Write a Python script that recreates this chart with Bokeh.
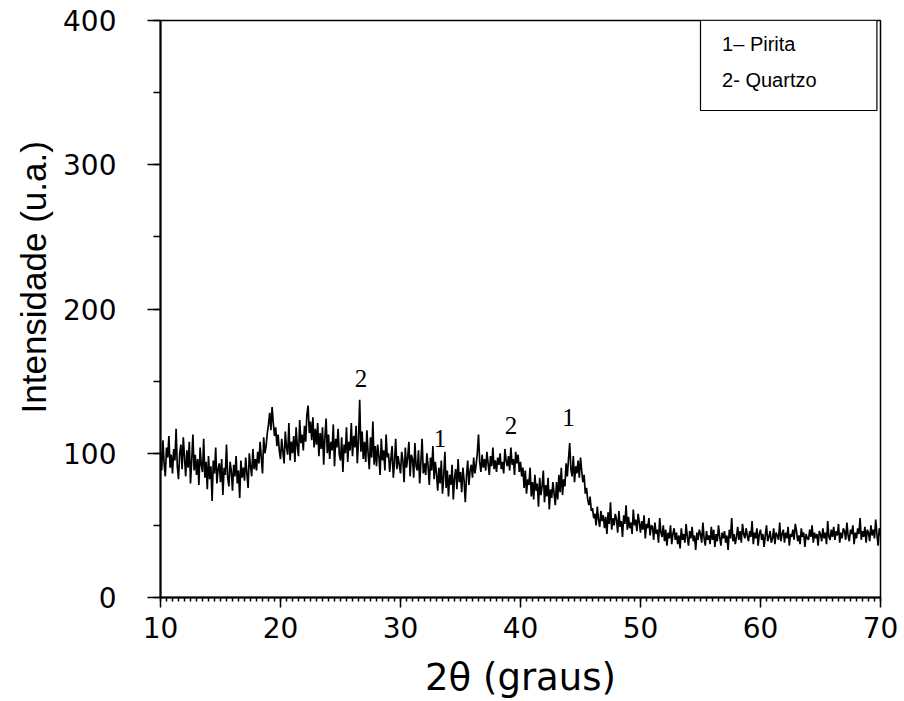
from bokeh.plotting import figure
from bokeh.models import Range1d, Label, BoxAnnotation, SingleIntervalTicker, ColumnDataSource, Title
from bokeh.core.properties import value
from bokeh.embed import file_html
from bokeh.resources import INLINE

# XRD scan: 2theta from 10 to 70 deg, step 0.1 deg
two_theta_start = 10.0
two_theta_step = 0.1
intensity = [
    101, 88, 109, 93, 84, 104, 97, 112, 90, 99,      # 10
    86, 103, 95, 117, 91, 82, 100, 106, 89, 111,     # 11
    97, 84, 102, 90, 108, 79, 95, 113, 88, 99,       # 12
    85, 96, 78, 104, 92, 87, 110, 83, 94, 75,        # 13
    98, 82, 91, 67, 95, 86, 104, 79, 89, 93,         # 14
    80, 96, 71, 90, 85, 106, 83, 77, 94, 88,         # 15
    74, 92, 84, 98, 79, 88, 69, 95, 83, 90,          # 16
    81, 97, 86, 76, 100, 91, 84, 103, 89, 96,        # 17
    88, 101, 93, 108, 97, 86, 111, 100, 105, 114,    # 18
    120, 128, 116, 132, 121, 112, 118, 105, 113, 102,  # 19
    96, 110, 101, 93, 115, 104, 99, 121, 95, 108,    # 20
    100, 112, 94, 118, 105, 98, 123, 107, 113, 102,  # 21
    119, 108, 127, 133, 114, 122, 109, 125, 104, 117,  # 22
    106, 121, 98, 114, 103, 118, 92, 111, 124, 100,  # 23
    113, 96, 108, 102, 120, 91, 110, 104, 117, 99,   # 24
    95, 111, 87, 106, 100, 118, 94, 108, 102, 121,   # 25
    98, 112, 104, 119, 93, 109, 137, 101, 115, 96,   # 26
    108, 94, 116, 100, 89, 111, 97, 122, 92, 105,    # 27
    91, 106, 98, 85, 110, 95, 102, 88, 113, 97,      # 28
    100, 87, 96, 105, 83, 94, 110, 89, 98, 92,       # 29
    86, 101, 95, 80, 104, 90, 97, 108, 84, 99,       # 30
    96, 83, 107, 91, 88, 102, 79, 94, 110, 86,       # 31
    93, 85, 100, 91, 78, 97, 88, 105, 82, 94,        # 32
    86, 74, 90, 79, 95, 72, 84, 101, 76, 88,         # 33
    70, 85, 78, 92, 68, 83, 89, 75, 96, 80,          # 34
    87, 73, 90, 81, 66, 84, 95, 78, 88, 92,          # 35
    83, 97, 86, 92, 100, 113, 94, 87, 99, 90,        # 36
    96, 88, 101, 93, 85, 98, 91, 104, 89, 95,        # 37
    87, 97, 92, 100, 89, 94, 86, 103, 95, 91,        # 38
    98, 88, 104, 92, 96, 85, 101, 93, 99, 87,        # 39
    94, 84, 90, 76, 88, 72, 82, 78, 90, 70,          # 40
    80, 68, 85, 74, 79, 63, 83, 71, 77, 88,          # 41
    66, 78, 70, 83, 61, 75, 69, 80, 72, 64,          # 42
    80, 68, 85, 73, 90, 71, 82, 77, 93, 84,          # 43
    96, 107, 89, 84, 98, 80, 91, 86, 95, 83,         # 44
    97, 88, 80, 85, 72, 76, 68, 64, 70, 60,          # 45
    62, 55, 58, 50, 63, 54, 49, 60, 53, 57,          # 46
    48, 56, 44, 59, 51, 66, 47, 55, 50, 58,          # 47
    54, 45, 60, 49, 53, 42, 57, 51, 64, 47,          # 48
    56, 48, 52, 44, 61, 50, 54, 46, 58, 52,          # 49
    45, 53, 47, 57, 41, 51, 48, 55, 43, 50,          # 50
    49, 40, 52, 44, 47, 38, 55, 45, 42, 50,          # 51
    39, 47, 36, 45, 41, 50, 37, 44, 48, 40,          # 52
    45, 37, 43, 34, 48, 40, 44, 38, 51, 42,          # 53
    36, 46, 41, 49, 39, 43, 33, 45, 40, 47,          # 54
    44, 38, 52, 41, 36, 46, 40, 43, 37, 49,          # 55
    40, 47, 35, 44, 39, 50, 42, 36, 45, 41,          # 56
    46, 38, 43, 33, 47, 41, 55, 39, 44, 37,          # 57
    42, 49, 40, 46, 38, 51, 44, 41, 48, 43,          # 58
    39, 46, 42, 53, 37, 45, 41, 48, 36, 44,          # 59
    47, 40, 44, 35, 43, 50, 39, 42, 46, 38,          # 60
    41, 48, 37, 45, 43, 40, 52, 39, 44, 47,          # 61
    38, 45, 41, 49, 36, 44, 42, 47, 40, 51,          # 62
    46, 39, 43, 37, 48, 42, 45, 35, 44, 41,          # 63
    40, 47, 42, 50, 38, 45, 41, 44, 36, 46,          # 64
    44, 39, 48, 41, 45, 37, 53, 42, 40, 47,          # 65
    42, 49, 40, 46, 43, 51, 38, 45, 41, 48,          # 66
    46, 40, 52, 43, 39, 47, 44, 50, 37, 45,          # 67
    41, 48, 44, 55, 40, 46, 42, 49, 38, 47,          # 68
    45, 39, 50, 43, 47, 41, 54, 44, 36, 48,          # 69
    43,                                              # 70
]
two_theta = [round(two_theta_start + i * two_theta_step, 2) for i in range(len(intensity))]

# Peak markers (1 = Pirita, 2 = Quartzo)
peak_labels = ["2", "1", "2", "1"]
peak_x = [26.7, 33.3, 39.2, 44.0]
peak_y = [152, 110, 119, 125]

legend_lines = ["1\u2013 Pirita", "2- Quartzo"]

p = figure(width=900, height=701, output_backend="svg", toolbar_location=None,
           x_range=Range1d(10, 70), y_range=Range1d(0, 400),
           min_border_left=160, min_border_right=20, min_border_top=20, min_border_bottom=104)
p.grid.visible = False
p.background_fill_color = "white"
p.border_fill_color = "white"
p.outline_line_color = "black"
p.outline_line_width = 1.5

p.line(two_theta, intensity, line_color="black", line_width=1.7)

src = ColumnDataSource(dict(x=peak_x, y=peak_y, t=peak_labels))
p.text(x="x", y="y", text="t", source=src, text_font=value("Liberation Serif"),
       text_font_size="25px", text_align="center", text_baseline="middle", text_color="black")

# axes
p.xaxis.ticker = SingleIntervalTicker(interval=10, num_minor_ticks=20)
p.yaxis.ticker = SingleIntervalTicker(interval=100, num_minor_ticks=2)
for ax in (p.xaxis[0], p.yaxis[0]):
    ax.axis_line_width = 2
    ax.axis_line_color = "black"
    ax.major_tick_line_color = "black"
    ax.minor_tick_line_color = "black"
    ax.major_tick_line_width = 1.5
    ax.minor_tick_line_width = 1.5
    ax.major_tick_in = 0
    ax.minor_tick_in = 0
    ax.major_label_text_font = "DejaVu Sans"
    ax.major_label_text_font_size = "28px"
    ax.major_label_text_color = "black"
p.xaxis.major_tick_out = 10
p.xaxis.minor_tick_out = 4
p.xaxis.major_label_standoff = 9
p.yaxis.major_tick_out = 13
p.yaxis.minor_tick_out = 7
p.yaxis.major_label_standoff = 31

p.xaxis.axis_label = "2\u03b8 (graus)"
p.xaxis.axis_label_text_font = "DejaVu Sans"
p.xaxis.axis_label_text_font_size = "37px"
p.xaxis.axis_label_text_font_style = "normal"
p.xaxis.axis_label_text_color = "black"
p.xaxis.axis_label_standoff = 15

ytitle = Title(text="Intensidade (u.a.)", align="left", offset=184,
               text_font="Liberation Sans", text_font_size="35px",
               text_font_style="normal", text_color="black", standoff=15)
p.add_layout(ytitle, "left")

# legend box
box = BoxAnnotation(left=55.0, right=69.7, top=400, bottom=337.6,
                    fill_color="white", fill_alpha=1.0, line_color="black",
                    line_alpha=1.0, line_width=1.2)
p.add_layout(box)
for txt, yy in zip(legend_lines, [383.5, 358.5]):
    p.add_layout(Label(x=56.8, y=yy, text=txt, text_font="Liberation Sans",
                       text_font_size="20px", text_baseline="middle", text_color="black"))

open("out.html", "w").write(file_html(p, INLINE))
